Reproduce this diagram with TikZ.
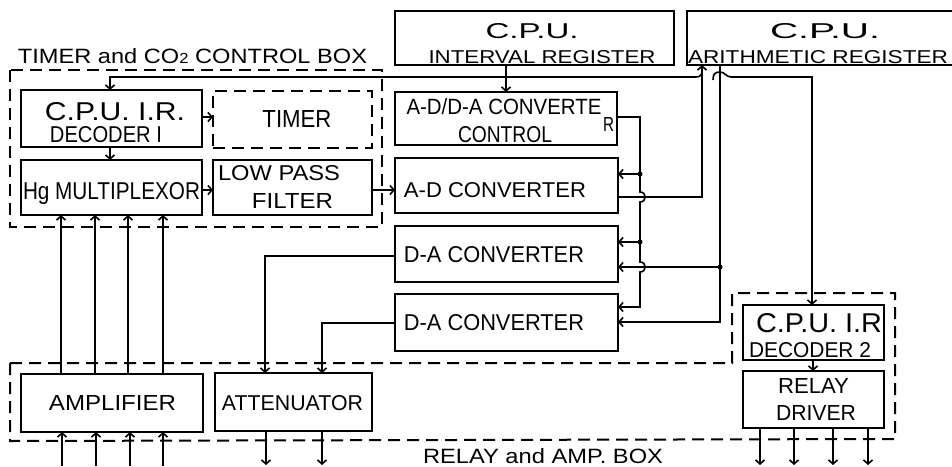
\documentclass[tikz,border=0pt]{standalone}
\usepackage{fontspec}
\setmainfont{Liberation Sans}
\usepackage{graphicx}
\usetikzlibrary{arrows.meta,calc}
\newcommand\fitt[3]{\resizebox{#1pt}{#2pt}{#3}}
\begin{document}
\begin{tikzpicture}[x=1pt,y=-1pt,
  blk/.style={draw, line width=2.2pt, rectangle, inner sep=0pt, outer sep=0pt},
  dbox/.style={draw, line width=2pt, dash pattern=on 12pt off 7pt},
  txt/.style={inner sep=0pt, outer sep=0pt, anchor=base},
  wire/.style={line width=1.6pt},
  arr/.style={wire, -{Straight Barb[length=4pt,width=9pt]}},
  jdot/.style={circle, fill, inner sep=0pt, minimum size=5pt}]
\useasboundingbox (0,0) rectangle (952,466);
\clip (0,0) rectangle (952,466);

% ---------- boxes ----------
\node[blk, minimum width=279pt, minimum height=54pt] (ir) at (534.5,38) {};
\node[blk, minimum width=283pt, minimum height=54pt] (ar) at (828.5,38) {};
\node[blk, minimum width=181pt, minimum height=57pt] (dec1) at (111.5,118.5) {};
\node[blk, dash pattern=on 12pt off 7pt, minimum width=159pt, minimum height=57pt] (timer) at (292.5,119.5) {};
\node[blk, minimum width=181pt, minimum height=55pt] (mux) at (111.5,187.5) {};
\node[blk, minimum width=159pt, minimum height=55pt] (lpf) at (292.5,187.5) {};
\node[blk, minimum width=222pt, minimum height=53pt] (ctrl) at (506,118.5) {};
\node[blk, minimum width=223pt, minimum height=55pt] (adc) at (506.5,185.5) {};
\node[blk, minimum width=223pt, minimum height=56pt] (dac1) at (506.5,254) {};
\node[blk, minimum width=223pt, minimum height=57pt] (dac2) at (506.5,322.5) {};
\node[blk, minimum width=182pt, minimum height=58pt] (amp) at (112,403) {};
\node[blk, minimum width=157pt, minimum height=58pt] (att) at (293.5,402) {};
\node[blk, minimum width=141pt, minimum height=55pt] (dec2) at (813.5,332.5) {};
\node[blk, minimum width=141pt, minimum height=57pt] (rly) at (813.5,399.5) {};

% ---------- dashed enclosures ----------
\draw[dbox] (10,70) rectangle (382,227);
\draw[dbox] (10,363) -- (732,363) -- (732,293) -- (895,293) -- (895,439) -- (10,441) -- cycle;

% ---------- texts ----------
\node[txt] (t-ir1) at (532,38) {\fitt{93}{15}{C.P.U.}};
\node[txt] (t-ir2) at (542,63) {\fitt{227}{13}{INTERVAL REGISTER}};
\node[txt] (t-ar1) at (825,38) {\fitt{110}{15}{C.P.U.}};
\node[txt] (t-ar2) at (818,63) {\fitt{260}{13}{ARITHMETIC REGISTER}};
\node[txt] (t-tb) at (192.5,63) {\fitt{349}{15}{TIMER and CO\scalebox{0.7}{2} CONTROL BOX}};
\node[txt] (t-d1a) at (115,120) {\fitt{140}{18}{C.P.U. I.R.}};
\node[txt] (t-d1b) at (106,142) {\fitt{112}{16}{DECODER I}};
\node[txt] (t-tim) at (297,127) {\fitt{69}{17}{TIMER}};
\node[txt] (t-mux) at (111.5,199) {\fitt{177}{17}{Hg MULTIPLEXOR}};
\node[txt] (t-lpa) at (279,180) {\fitt{122}{15}{LOW PASS}};
\node[txt] (t-lpb) at (292.5,208) {\fitt{81}{15}{FILTER}};
\node[txt] (t-ca) at (504,114) {\fitt{195}{16}{A-D/D-A CONVERTE}};
\node[txt] (t-cr) at (608.5,131) {\fitt{11}{14}{R}};
\node[txt] (t-cb) at (505,142) {\fitt{94}{16}{CONTROL}};
\node[txt] (t-adc) at (495,197) {\fitt{182}{15}{A-D CONVERTER}};
\node[txt] (t-dac1) at (494,262) {\fitt{180}{16}{D-A CONVERTER}};
\node[txt] (t-dac2) at (494,330) {\fitt{180}{16}{D-A CONVERTER}};
\node[txt] (t-amp) at (112.5,410) {\fitt{127}{15}{AMPLIFIER}};
\node[txt] (t-att) at (292.5,410) {\fitt{141}{15}{ATTENUATOR}};
\node[txt] (t-d2a) at (819,332) {\fitt{126}{19}{C.P.U. I.R}};
\node[txt] (t-d2b) at (810,357) {\fitt{122}{15}{DECODER 2}};
\node[txt] (t-rl1) at (813.5,393) {\fitt{71}{15}{RELAY}};
\node[txt] (t-rl2) at (816,420) {\fitt{80}{15}{DRIVER}};
\node[txt] (t-rab) at (543,463) {\fitt{240}{15}{RELAY and AMP. BOX}};

% ---------- junction / end coordinates ----------
\coordinate (j1) at (640,174);
\coordinate (j2) at (640,242);
\coordinate (j3) at (720,267);
\coordinate (hb) at (713,80);

% ---------- connectors ----------
% interval register -> converter control
\draw[arr] (ir.south -| 506,0) -- (ctrl.north -| 506,0);
% arithmetic register -> decoder 1
\draw[arr] (ar.south -| 702,0) -- (702,71) .. controls (702,75) and (700,77) .. (696,77) -- (110,77) -- (dec1.north -| 110,0);
% A-D converter -> arithmetic register
\draw[arr] (adc.east |- 0,197) -- (702,197) -- (ar.south -| 702,0);
% decoder 1 -> timer, -> multiplexor
\draw[arr] (dec1.east |- 0,117) -- (timer.west |- 0,117);
\draw[arr] (dec1.south -| 110,0) -- (mux.north -| 110,0);
% multiplexor -> low pass -> A-D
\draw[arr] (mux.east |- 0,190) -- (lpf.west |- 0,190);
\draw[arr] (lpf.east |- 0,190) -- (adc.west |- 0,190);
% amplifier -> multiplexor
\foreach \x in {61,95,128,163} {
  \draw[arr] (amp.north -| \x,0) -- (mux.south -| \x,0);
}
% inputs to amplifier
\foreach \x/\n in {62/1,96/2,130/3,163/4} {
  \coordinate (ain\n) at (\x,466);
  \draw[arr] (ain\n) -- (amp.south -| ain\n);
}
% attenuator outputs
\foreach \x/\n in {266/1,322/2} {
  \coordinate (aout\n) at (\x,465);
  \draw[arr] (att.south -| aout\n) -- (aout\n);
}
% D-A converters -> attenuator
\draw[arr] (dac1.west |- 0,256) -- (265,256) -- (att.north -| 265,0);
\draw[arr] (dac2.west |- 0,323) -- (322,323) -- (att.north -| 322,0);
% converter control -> converters
\draw[arr] (ctrl.east |- 0,117) -- (640,117) -- (640,192) .. controls (647,192) and (647,202) .. (640,202)
  -- (640,262) .. controls (647,262) and (647,272) .. (640,272) -- (640,307) -- (dac2.east |- 0,307);
\draw[arr] (j1) -- (adc.east |- j1);
\draw[arr] (j2) -- (dac1.east |- j2);
\node[jdot] at (j1) {};
\node[jdot] at (j2) {};
% arithmetic register -> D-A converters
\draw[arr] (ar.south -| 720,0) -- (720,322) -- (dac2.east |- 0,322);
\draw[arr] (j3) -- (dac1.east |- j3);
\node[jdot] at (j3) {};
% arithmetic register -> decoder 2
\draw[arr] (hb) .. controls (713,74) and (715,72) .. (720,72) .. controls (725,72) and (726,77) .. (731,77) -- (812,77) -- (dec2.north -| 812,0);
% decoder 2 -> relay driver
\draw[arr] (dec2.south -| 813,0) -- (rly.north -| 813,0);
% relay outputs
\foreach \x/\n in {760/1,794/2,833/3,868/4} {
  \coordinate (rout\n) at (\x,465);
  \draw[arr] (rly.south -| rout\n) -- (rout\n);
}
\end{tikzpicture}
\end{document}
